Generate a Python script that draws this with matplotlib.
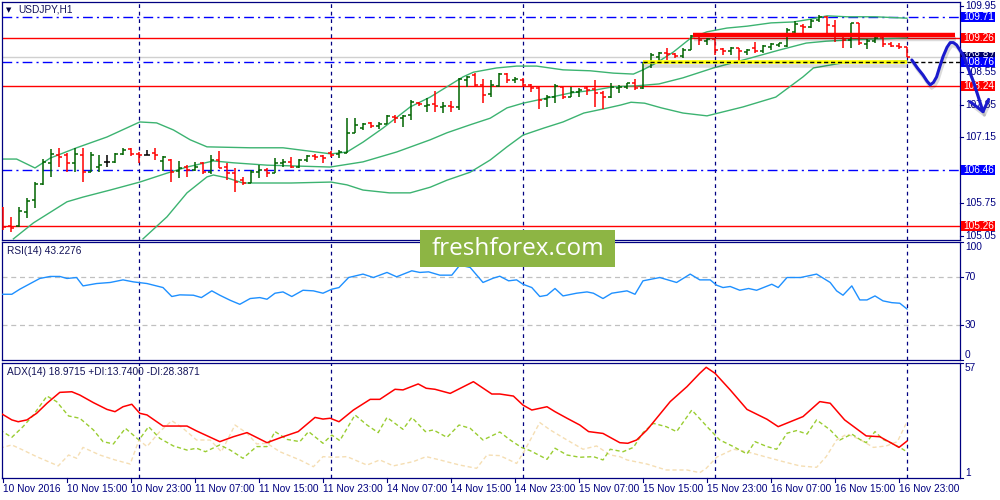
import matplotlib
matplotlib.use("Agg")
import matplotlib.pyplot as plt
import matplotlib.patheffects as pe
import matplotlib.transforms as mtransforms
from matplotlib.patches import Rectangle
import numpy as np

plt.rcParams['font.family'] = ['Liberation Sans', 'DejaVu Sans']

# ---------------- data ----------------
symbol = "USDJPY,H1"
opens = [105.65,105.26,105.26,105.56,105.82,106.16,106.61,106.78,106.78,106.61,
         106.78,106.41,106.52,106.63,106.63,106.80,106.90,106.80,106.78,106.82,
         106.65,106.67,106.44,106.52,106.46,106.61,106.41,106.67,106.52,106.39,
         106.24,106.18,106.41,106.46,106.39,106.61,106.63,106.52,106.67,106.76,
         106.76,106.82,106.80,106.82,107.25,107.35,107.46,107.39,107.44,107.59,
         107.56,107.63,107.88,107.82,107.86,107.80,107.82,107.80,108.37,108.48,
         108.27,108.08,108.25,108.50,108.37,108.37,108.27,108.20,107.97,108.01,
         108.23,108.01,108.12,108.20,108.18,108.10,108.01,108.20,108.23,108.31,
         108.20,108.74,108.86,108.95,108.93,108.89,109.01,109.31,109.20,109.25,
         109.03,108.99,109.06,108.97,109.06,108.99,109.08,109.12,109.10,109.40,
         109.52,109.50,109.65,109.72,109.52,109.35,109.23,109.59,109.14,109.20,
         109.27,109.14,109.10,109.08]
highs = [105.67,105.46,105.67,105.86,106.20,106.69,106.90,106.93,106.82,106.93,
         106.93,106.84,106.78,106.78,106.82,106.93,106.93,106.84,106.88,106.93,
         106.76,106.69,106.65,106.56,106.63,106.63,106.78,106.86,106.61,106.50,
         106.31,106.46,106.56,106.50,106.71,106.69,106.73,106.69,106.78,106.80,
         106.78,106.86,106.88,107.56,107.56,107.46,107.48,107.48,107.63,107.63,
         107.63,107.95,107.90,107.99,108.14,107.90,107.93,108.42,108.46,108.52,
         108.40,108.37,108.52,108.52,108.44,108.42,108.29,108.23,108.05,108.29,
         108.25,108.23,108.20,108.25,108.37,108.14,108.31,108.27,108.31,108.40,
         108.76,108.95,108.97,109.06,108.95,109.06,109.33,109.33,109.27,109.27,
         109.06,109.08,109.06,109.03,109.18,109.12,109.16,109.16,109.48,109.63,
         109.57,109.67,109.76,109.74,109.65,109.38,109.59,109.59,109.25,109.29,
         109.29,109.18,109.16,109.08]
lows = [105.18,105.14,105.24,105.43,105.65,106.14,106.31,106.52,106.41,106.41,
        106.20,106.41,106.41,106.52,106.61,106.78,106.76,106.61,106.78,106.67,
        106.44,106.20,106.29,106.31,106.44,106.37,106.37,106.50,106.24,105.99,
        106.14,106.18,106.29,106.31,106.39,106.52,106.50,106.50,106.63,106.67,
        106.61,106.73,106.71,106.82,107.25,107.31,107.35,107.33,107.44,107.46,
        107.37,107.52,107.82,107.69,107.69,107.67,107.69,107.73,108.23,108.23,
        107.88,108.01,108.23,108.31,108.31,108.23,108.12,107.76,107.80,107.88,
        107.97,108.01,108.01,108.05,107.80,107.76,107.99,108.10,108.18,108.16,
        108.18,108.63,108.76,108.80,108.84,108.84,109.01,109.12,109.12,108.91,
        108.91,108.91,108.76,108.91,108.95,108.95,109.01,109.08,109.08,109.38,
        109.38,109.48,109.61,109.38,109.18,109.06,109.06,109.12,109.03,109.16,
        109.08,109.08,109.03,108.86]
closes = [105.24,105.22,105.58,105.80,106.16,106.63,106.80,106.73,106.61,106.80,
          106.41,106.78,106.56,106.63,106.80,106.88,106.80,106.78,106.78,106.78,
          106.73,106.41,106.50,106.46,106.52,106.41,106.67,106.50,106.39,106.20,
          106.18,106.41,106.46,106.39,106.61,106.63,106.52,106.67,106.76,106.73,
          106.71,106.78,106.84,107.25,107.42,107.44,107.39,107.44,107.61,107.56,
          107.61,107.90,107.86,107.84,107.82,107.82,107.80,108.40,108.44,108.27,
          108.05,108.27,108.50,108.37,108.40,108.27,108.20,107.95,108.01,108.25,
          108.01,108.12,108.16,108.16,108.10,108.01,108.23,108.23,108.31,108.20,
          108.74,108.91,108.95,108.93,108.89,109.01,109.31,109.23,109.25,109.01,
          108.99,109.06,108.99,109.01,108.99,109.10,109.14,109.16,109.44,109.57,
          109.50,109.63,109.72,109.55,109.35,109.23,109.59,109.16,109.20,109.27,
          109.14,109.10,109.08,108.86]

# Bollinger bands (bar position, price)
bb_up_x = [-0.4,1.7,4,5.9,9.2,13,17.1,19.2,21.3,23.4,25.5,30.9,35,41,43,45,47.5,50.9,53.4,55.5,
           57.5,58.8,61.7,64.2,66.7,70,73.4,76.3,78.8,80,81.7,83.8,86,88,90.5,93,96,98.8,101,103,
           105.5,109,113]
bb_up_y = [106.69,106.69,106.50,106.71,106.93,107.16,107.48,107.46,107.31,107.10,106.95,106.93,
           106.93,106.80,106.84,107.05,107.35,107.80,108.01,108.23,108.44,108.54,108.63,108.67,
           108.67,108.59,108.57,108.52,108.50,108.59,108.74,108.97,109.27,109.40,109.48,109.52,
           109.59,109.61,109.67,109.74,109.72,109.72,109.69]
bb_mid_x = [1.3,3.8,8,10,13.4,17.1,20.5,23,26.3,28.8,33,40.9,45,49.2,53.4,55.5,58.4,60.9,63,65,
            68,71,74,76.3,79.2,82,85,88.8,93.4,97,100.4,102.9,106.2,113]
bb_mid_y = [104.99,105.33,105.78,105.88,106.03,106.20,106.39,106.52,106.65,106.61,106.56,106.52,
            106.63,106.84,107.10,107.25,107.42,107.56,107.78,107.88,107.99,108.10,108.16,108.23,
            108.25,108.29,108.42,108.63,108.84,109.01,109.16,109.20,109.23,109.27]
bb_low_x = [17.5,20.5,23,25.5,26.3,28,30,36,41,43,45,48.3,50.9,53.4,55.5,58.4,60.9,63,65,67.6,
            70,72.6,75.1,77.2,78.5,80.2,82.3,85,88,92.5,96.6,100,101.3,105,113]
bb_low_y = [104.99,105.46,105.97,106.31,106.35,106.29,106.18,106.18,106.20,106.14,106.03,105.97,
            105.97,106.09,106.24,106.41,106.67,106.95,107.20,107.35,107.48,107.67,107.76,107.84,
            107.90,107.88,107.78,107.67,107.61,107.80,108.01,108.44,108.63,108.74,108.78]

rsi_x = [-0.4,1.1,2.1,4.6,5.9,7.1,8,9.2,10,11.7,13.4,15,16.3,18,20,21.1,22.1,23.8,24.8,26.1,
         27.1,28.4,29.6,30.9,32.1,33,34,35,36.1,37.5,38.8,40,41.1,42,43.2,45,46.3,48,49.2,51.1,
         52.1,53.2,54.6,56.1,57.1,58.4,60,61.3,62.1,63.2,64.2,65,66.1,67.1,68,69,70,71.7,73,73.8,
         75,76.1,78,79,80,82.1,84.2,85.9,87.1,88.4,89.2,90,90.9,92.1,93.2,94.2,96.1,96.9,98,99.7,
         101.7,103.4,104.2,105,106.1,107.1,108,109,110,111.1,112.1,113]
rsi_v = [55.7,55.7,60,69.1,70.8,70.8,69.1,69.9,62.8,64.8,65.7,67.9,66.2,64.8,61.4,53.8,55.2,54.9,52.9,58.6,
         54.9,50.6,47.2,52.1,52.9,51.5,56.6,57.7,53.8,59.1,58.6,56.6,60,61.4,69.9,72.8,69.9,74.2,70.5,75.6,
         74.2,74.7,71.9,71.9,80.4,78.4,65.7,69.4,71.0,67.1,67.9,64.2,61.4,53.8,54.9,60.6,54.3,56.6,57.7,56.6,
         52.1,56.6,58.6,55.7,67.1,69.9,65.7,72.8,67.9,67.9,63.4,61.4,62.3,59.1,60.6,59.1,64.2,61.4,69.9,69.9,
         72.8,65.7,58.6,54.9,62.8,50.9,50.9,54.3,50.1,48.6,48.1,43.23]
rsi_levels = [70, 30]

adx_x = [-0.4,1.1,1.9,3,4.2,5.5,7.1,8.6,9.6,11.3,13,14,15,16.1,17.1,18,20,23,24.2,27.1,
         28.8,30.5,33,35,36.9,39,40,40.9,42,43.8,45.9,47.1,49,50,51.9,52.9,54,55.9,58.8,61.1,
         62.1,63.8,65,66.1,68,69,70.5,72.1,73.2,75,77.1,78.1,79.2,80.5,83.4,85.5,87.1,87.9,89,90.9,
         93,95.5,96.9,100,102.1,103.4,105.2,107.9,109.6,111.1,112,113]
adx_v = [32.8,29.3,28.4,29.3,32.5,37.4,42.7,43.0,41.4,37.7,34.4,33.3,35.7,36.9,32.5,31.7,26.3,26.3,23.9,18.7,
         21.1,23.1,18.2,21.1,23.6,30.5,29.7,30.1,28.4,34.1,39.3,39.3,44.2,43.9,46.8,44.7,44.2,42.2,47.9,41.9,
         41.9,40.9,36.5,34.1,35.7,33.3,30.1,26.8,23.6,22.7,18.2,17.9,19.5,24.4,38.2,45.5,52.0,54.9,52.0,43.9,
         34.4,29.6,26.0,30.9,38.2,37.4,29.3,21.5,21.1,17.9,15.9,18.97]
pdi_x = [-0.4,1.1,2.5,3.8,5.5,6.7,8.2,9.6,11.3,12.5,13.8,15.3,17,18.2,19.6,21.3,23,24.2,25.3,27.1,
         28.4,30,31.7,33,34,35.5,37.1,38.2,40,41.1,42.1,44,45.5,46.9,48,50,51.1,52.8,53.8,55.5,
         57,58.4,60,62.1,63.4,64.8,65.9,68,69,70.5,72.1,73.8,75,75.9,77.5,78.8,80,81.3,82.9,84.2,
         86.1,88.2,89.6,91.3,93,94,95.5,96.7,98,99.2,100.5,101.7,103.4,104.6,106.1,107.1,107.9,109,110,111.1,
         112.1,113]
pdi_v = [24.4,20.8,26.0,31.7,40.9,38.2,31.2,30.1,24.4,18.7,17.6,25.2,19.5,26.0,20.3,16.6,14.6,15.5,13.8,17.1,
         14.6,10.6,16.3,16.3,23.6,19.8,18.7,23.6,17.9,21.9,19.2,31.7,26.8,23.1,30.5,24.7,30.5,23.6,24.4,20.8,
         26.8,25.2,19.5,23.4,19.5,15.9,14.3,10.1,15.5,12.2,11.1,11.4,9.8,15.0,13.8,15.9,23.1,27.6,26.0,23.6,
         34.1,25.2,19.5,16.3,12.7,18.7,16.3,15.0,22.8,24.1,22.4,29.3,24.4,19.5,22.4,19.8,18.2,23.6,19.8,17.9,
         15.9,13.74]
mdi_x = [-0.4,1.1,2.5,4.2,6.9,8.2,9.2,10,12.1,14,15.9,17,18,19.6,21.1,22.5,24.2,25.9,27.3,29,
         30.5,31.7,33,34.6,37.1,38.8,40,41.3,43,45.5,47.1,48.8,51.3,52.9,54.6,57.1,59.2,60.5,62.1,64.2,
         65,67.1,68.4,70.5,72.5,74.2,75.9,77.1,78,80.5,82.9,85.5,87.1,87.9,89.2,91.3,93,95.5,97.5,99.6,
         101.7,102.9,104.2,105.5,107.1,108.8,110.4,111.8,113]
mdi_v = [15.5,17.1,14.6,11.4,6.9,12.2,10.6,15.9,12.2,9.8,7.8,19.5,16.3,23.6,28.9,25.2,19.5,19.5,13.8,26.8,
         22.8,17.6,17.9,13.8,9.8,6.5,11.4,11.1,11.4,7.3,9.8,6.9,9.0,11.4,9.8,7.3,5.7,12.2,11.9,8.1,
         13.0,28.0,24.4,19.5,15.0,16.6,12.2,11.4,9.8,7.8,4.9,4.9,3.6,5.7,11.1,15.0,13.8,11.1,9.0,6.9,
         6.2,11.4,19.5,22.4,19.8,15.9,16.6,18.7,28.39]

time_tick_bars = [0,8,16,24,32,40,48,56,64,72,80,88,96,104,112]
time_labels = ["10 Nov 2016","10 Nov 15:00","10 Nov 23:00","11 Nov 07:00","11 Nov 15:00",
               "11 Nov 23:00","14 Nov 07:00","14 Nov 15:00","14 Nov 23:00","15 Nov 07:00",
               "15 Nov 15:00","15 Nov 23:00","16 Nov 07:00","16 Nov 15:00","16 Nov 23:00"]
day_separators = [17, 41, 65, 89, 113]

blue_levels = [109.71, 108.76, 106.46]
red_levels = [109.26, 108.24, 105.26]
bid_price = 108.87
price_ticks = [109.95, 108.55, 107.85, 107.15, 105.75, 105.05]

resistance = (109.33, 86.25, 119.0)     # level, start bar, end bar
support = (108.75, 80.0, 113.0)
forecast_x = [113.6,114.3,115.0,115.5,115.9,116.3,116.7,117.1,117.5,118.0,118.4,118.8,119.2,120.0,121.3,122.5]
forecast_y = [108.80,108.63,108.48,108.35,108.27,108.32,108.44,108.66,108.87,109.07,109.17,109.17,109.12,108.91,108.34,107.70]
arrow_head_x = [120.9, 122.5, 123.2]
arrow_head_y = [107.91, 107.70, 107.96]

rsi_title = "RSI(14) 43.2276"
adx_title = "ADX(14) 18.9715 +DI:13.7400 -DI:28.3871"

# ---------------- styling ----------------
NAVY = "#000080"
TXT = "#14145a"
GREEN = "#006400"
RED = "#ff0000"
BLUE = "#0000ff"
BB = "#3cb371"
W, H = 1000, 500
BAR_PX = 8.0
X0_PX = 3.0

fig = plt.figure(figsize=(10, 5), dpi=100)
fig.patch.set_facecolor("white")

def axrect(top, bottom):
    return [2 / W, 1 - bottom / H, 958 / W, (bottom - top) / H]

ax1 = fig.add_axes(axrect(2, 240))
ax2 = fig.add_axes(axrect(242, 360))
ax3 = fig.add_axes(axrect(363, 478))

xl = ((2 - X0_PX) / BAR_PX, (960 - X0_PX) / BAR_PX)
for ax in (ax1, ax2, ax3):
    ax.set_xlim(*xl)
    ax.set_xticks([])
    ax.set_yticks([])
    for s in ax.spines.values():
        s.set_color(NAVY)
        s.set_linewidth(0.9)
    for d in day_separators:
        ax.axvline(d, color=NAVY, lw=0.9, ls=(0, (3, 3)), zorder=1.5)

ax1.set_ylim(104.966, 110.035)
ax2.set_ylim(0, 100)
ax3.set_ylim(1, 57)

def blended(ax):
    return mtransforms.blended_transform_factory(fig.transFigure, ax.transData)

def axis_label(ax, y, s, va="center"):
    tr = blended(ax)
    ax.plot([960 / W, 963 / W], [y, y], transform=tr, color=NAVY, lw=0.8, clip_on=False)
    ax.text(965 / W, y, s, transform=tr, ha="left", va=va, fontsize=7.3, color=NAVY, clip_on=False)

def box_label(ax, y, s, fc, clip_top=False):
    tr = blended(ax)
    lo, hi = ax.get_ylim()
    pr = (hi - lo) / 238.0
    rect = Rectangle((961 / W, y - 5 * pr), 34 / W, 10 * pr, transform=tr, fc=fc,
                     ec="none", clip_on=False, zorder=6)
    ax.add_patch(rect)
    t = ax.text(963.5 / W, y, s, transform=tr, ha="left", va="center", fontsize=7.3, color="white",
                clip_on=False, zorder=7)
    if clip_top:
        vis = Rectangle((961 / W, y + 0.5 * pr), 34 / W, 5 * pr, transform=tr,
                        fc="none", ec="none")
        ax.add_patch(vis)
        t.set_clip_path(vis)
        t.set_clip_on(True)

# ---------------- main panel ----------------
ax1.plot([xl[0], support[1]], [blue_levels[1]] * 2, color=BLUE, lw=1, ls=(0, (7, 3, 1.5, 3)), zorder=1)
for lv in (blue_levels[0], blue_levels[2]):
    ax1.axhline(lv, color=BLUE, lw=1, ls=(0, (7, 3, 1.5, 3)), zorder=1)
for lv in red_levels:
    ax1.axhline(lv, color=RED, lw=1, zorder=1)
ax1.axhline(bid_price, color="#d0d0d0", lw=1, zorder=1)

ax1.plot(bb_up_x, bb_up_y, color=BB, lw=1, zorder=2)
ax1.plot(bb_mid_x, bb_mid_y, color=BB, lw=1, zorder=2)
ax1.plot(bb_low_x, bb_low_y, color=BB, lw=1, zorder=2)

o = np.array(opens); h = np.array(highs); l = np.array(lows); c = np.array(closes)
idx = np.arange(len(o))
cols = np.where(c > o, GREEN, np.where(c < o, RED, "black"))
ax1.vlines(idx, l, h, colors=cols, lw=1.1, zorder=3)
ax1.hlines(o, idx - 0.38, idx, colors=cols, lw=1.1, zorder=3)
ax1.hlines(c, idx, idx + 0.38, colors=cols, lw=1.1, zorder=3)

shadow = [pe.SimpleLineShadow(offset=(1, -2.5), shadow_color="black", alpha=0.14), pe.Normal()]
ax1.plot([support[1], support[2]], [support[0], support[0]], color="#ffff00", lw=2.6,
         zorder=4, path_effects=shadow, solid_capstyle="butt")
ax1.plot([support[1], xl[1]], [support[0], support[0]], color="black", lw=1,
         ls=(0, (3, 2)), zorder=4.5)
ax1.plot([resistance[1], resistance[2]], [resistance[0], resistance[0]], color=RED, lw=3.2,
         zorder=4, path_effects=shadow, solid_capstyle="butt")
ax1.plot(forecast_x, forecast_y, color="#1a1acd", lw=2.2, zorder=8, clip_on=False,
         path_effects=shadow, solid_joinstyle="round", solid_capstyle="round")
ax1.plot(arrow_head_x, arrow_head_y, color="#1a1acd", lw=2.2, zorder=8, clip_on=False,
         path_effects=shadow, solid_joinstyle="round", solid_capstyle="round")

for t in price_ticks:
    axis_label(ax1, t, f"{t:.2f}")
box_label(ax1, bid_price, f"{bid_price:.2f}", "#000066", clip_top=True)
for lv in blue_levels:
    box_label(ax1, lv, f"{lv:.2f}", BLUE)
for lv in red_levels:
    box_label(ax1, lv, f"{lv:.2f}", RED)

fig.text(6 / W, 1 - 10 / H, "\u25BC", fontsize=5, color="#000040", ha="left", va="center",
         family="DejaVu Sans")
fig.text(18 / W, 1 - 10 / H, symbol, fontsize=7.3, color=TXT, ha="left", va="center")

# ---------------- RSI panel ----------------
for lv in rsi_levels:
    ax2.axhline(lv, color="#c0c0c0", lw=0.9, ls=(0, (4, 3)), zorder=1)
ax2.plot(rsi_x, rsi_v, color="#1e90ff", lw=1, zorder=3)
axis_label(ax2, 100, "100", va="top")
axis_label(ax2, 70, "70")
axis_label(ax2, 30, "30")
axis_label(ax2, 0, "0", va="bottom")
fig.text(7 / W, 1 - 251 / H, rsi_title, fontsize=7.3, color=TXT, ha="left", va="center")

# ---------------- ADX panel ----------------
ax3.plot(mdi_x, mdi_v, color="#f5deb3", lw=1, ls=(0, (3, 2)), zorder=2)
ax3.plot(pdi_x, pdi_v, color="#9acd32", lw=1, ls=(0, (3, 2)), zorder=2)
ax3.plot(adx_x, adx_v, color=RED, lw=1.1, zorder=3)
axis_label(ax3, 57, "57", va="top")
axis_label(ax3, 1, "1", va="bottom")
fig.text(7 / W, 1 - 372 / H, adx_title, fontsize=7.3, color=TXT, ha="left", va="center")

trx = mtransforms.blended_transform_factory(ax3.transData, fig.transFigure)
for b, s in zip(time_tick_bars, time_labels):
    ax3.plot([b, b], [1 - 478 / H, 1 - 482 / H], transform=trx, color=NAVY, lw=0.8, clip_on=False)
    ax3.text(b, 1 - 489 / H, s, transform=trx, ha="left", va="center",
             fontsize=7.3, color=NAVY, clip_on=False)

# ---------------- watermark ----------------
fig.patches.append(Rectangle((420 / W, 1 - 267 / H), 195 / W, 37 / H, transform=fig.transFigure,
                             fc="#8db544", ec="none", zorder=10))
fig.text(518 / W, 1 - 249 / H, "freshforex.com", color="white", fontsize=17.5, family="Open Sans",
         ha="center", va="center", zorder=11)

fig.savefig("out.png", dpi=100)
